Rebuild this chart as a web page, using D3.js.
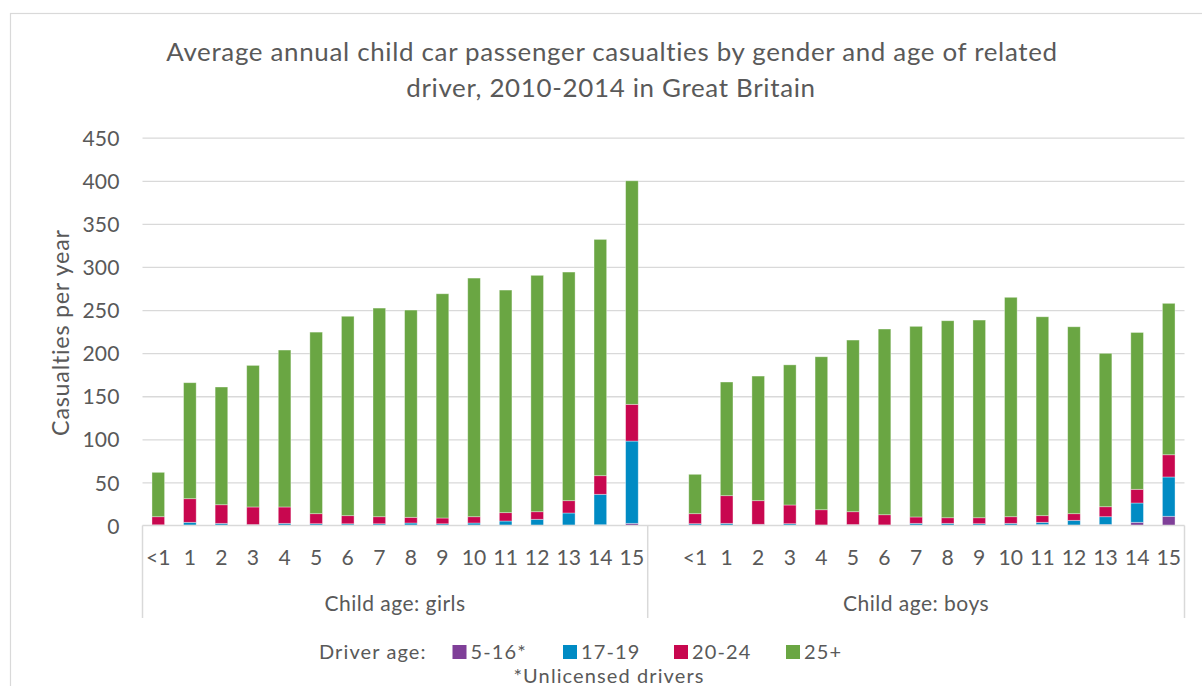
<!DOCTYPE html>
<html><head><meta charset="utf-8">
<script src="https://cdn.jsdelivr.net/npm/d3@7"></script>
<style>
body{margin:0;background:#fff}
svg{display:block}
text{font-family:Lato,"Open Sans",sans-serif;fill:#595959}
</style>
</head><body>
<svg id="chart" width="1202" height="686"></svg>
<script>
// ---- data ----
const childAges = ["<1","1","2","3","4","5","6","7","8","9","10","11","12","13","14","15"];
const groupLabels = ["Child age: girls","Child age: boys"];
const seriesNames = ["5-16*","17-19","20-24","25+"];
const seriesColors = ["#7f3f98","#008bc4","#c8074f","#6aa643"];
const yTicks = [0,50,100,150,200,250,300,350,400,450];

const girls5to16 = [0.4,0.3,0.3,0.5,0.3,0.3,0.5,0.3,0.3,0.3,0.3,0.3,0.2,0.3,0.8,2.5];
const girls17to19 = [0.3,3.4,2.2,0.5,2.2,1.8,1.5,1.7,2.6,1.7,2.6,4.9,7.0,14.2,35.4,95.5];
const girls20to24 = [9.5,27.4,21.6,20.5,19.0,11.6,9.4,8.2,6.6,6.7,7.3,9.7,8.8,14.3,21.6,42.6];
const girls25plus = [51.5,134.6,136.6,164.3,182.1,210.7,231.4,242.1,240.5,260.2,276.9,258.3,274.3,265.3,274.2,259.4];

const boys5to16 = [0.3,0.3,1.0,0.3,0.2,0.8,0.2,0.3,0.3,0.3,0.3,1.0,0.3,1.2,3.7,10.7];
const boys17to19 = [1.8,2.2,0.4,1.8,0.2,0.2,0.3,2.2,2.2,1.8,2.2,2.7,5.7,9.0,22.4,45.6];
const boys20to24 = [11.6,32.1,27.4,21.7,17.9,15.0,12.0,7.4,6.5,6.9,7.7,7.7,7.7,11.6,15.9,25.8];
const boys25plus = [45.7,131.9,144.6,162.6,177.5,199.2,215.5,221.2,228.6,229.4,254.6,230.8,216.9,178.0,182.0,175.7];

// ---- build table ----
const groupSeries = [
  [girls5to16, girls17to19, girls20to24, girls25plus],
  [boys5to16, boys17to19, boys20to24, boys25plus]
];
const rows = [];
groupSeries.forEach((ser, g) => {
  childAges.forEach((age, i) => {
    const r = {key: g + "|" + age, age, group: g};
    seriesNames.forEach((s, k) => r[s] = ser[k][i]);
    rows.push(r);
  });
});
const gapKey = "gap";
const domain = rows.filter(r => r.group === 0).map(r => r.key)
  .concat([gapKey])
  .concat(rows.filter(r => r.group === 1).map(r => r.key));

const svg = d3.select("#chart");

// text fitting helper: grow font modestly, make up the rest with letter-spacing
function fitStyle(sampleText, baseSize, targetWidth, maxGrow = 1.06) {
  const t = svg.append("text").attr("font-size", baseSize).text(sampleText);
  const w0 = t.node().getComputedTextLength();
  const size = baseSize * Math.min(maxGrow, Math.sqrt(targetWidth / w0));
  t.attr("font-size", size);
  const w1 = t.node().getComputedTextLength();
  t.remove();
  const spacing = Math.max(0, (targetWidth - w1) / sampleText.length);
  return {size, spacing};
}
function applyStyle(sel, st) {
  sel.attr("font-size", st.size).attr("letter-spacing", st.spacing);
}

// ---- layout ----
const plotLeft = 142.5, plotRight = 1184.5, plotTop = 137.7, plotBottom = 525.5;
const pad = 0.6;

const tickStyle = fitStyle("450", 21, 37);
const titleStyle = fitStyle("Average annual child car passenger casualties by gender and age of related", 24.5, 892);
const yTitleStyle = fitStyle("Casualties per year", 22, 207);
const groupStyle = fitStyle("Child age: girls", 20, 141);
const legendStyle = fitStyle("*Unlicensed drivers", 20, 191, 1.0);

// outer border
svg.append("rect").attr("x",10.5).attr("y",13.5).attr("width",1200).attr("height",700)
  .attr("fill","none").attr("stroke","#d9d9d9").attr("stroke-width",1.2);

const x = d3.scaleBand().domain(domain).range([plotLeft, plotRight])
  .paddingInner(pad).paddingOuter(pad/2);
const y = d3.scaleLinear().domain([0,450]).range([plotBottom, plotTop]);

// gridlines
const grid = svg.append("g").attr("transform",`translate(${plotLeft},0)`)
  .call(d3.axisLeft(y).tickValues(yTicks.filter(v => v > 0)).tickSize(-(plotRight-plotLeft)).tickFormat(""));
grid.select(".domain").remove();
grid.selectAll("line").attr("stroke","#d9d9d9").attr("stroke-width",1.3);

// y tick labels
const yAx = svg.append("g").attr("transform",`translate(${plotLeft},0)`)
  .call(d3.axisLeft(y).tickValues(yTicks).tickSize(0).tickPadding(23));
yAx.select(".domain").remove();
yAx.selectAll("text").attr("fill","#595959").attr("font-family","Lato").attr("dy","0.36em");
applyStyle(yAx.selectAll("text"), tickStyle);

// stacked bars
const stack = d3.stack().keys(seriesNames)(rows);
svg.append("g").selectAll("g").data(stack).join("g")
  .attr("fill", (d,i) => seriesColors[i])
  .selectAll("rect").data(d => d).join("rect")
  .attr("x", d => x(d.data.key))
  .attr("width", x.bandwidth())
  .attr("y", d => y(d[1]))
  .attr("height", d => Math.max(0, y(d[0]) - y(d[1])))
  .attr("stroke","#ffffff").attr("stroke-opacity",0.45).attr("stroke-width",0.8);

// category axis lines (multi-level)
const boundary = x(gapKey) - x.step()*pad/2;
const axisColor = "#d9d9d9";
svg.append("line").attr("x1",plotLeft).attr("x2",plotRight).attr("y1",plotBottom).attr("y2",plotBottom)
  .attr("stroke",axisColor).attr("stroke-width",1.5);
[plotLeft, boundary, plotRight].forEach(xx => {
  svg.append("line").attr("x1",xx).attr("x2",xx).attr("y1",plotBottom).attr("y2",618)
    .attr("stroke",axisColor).attr("stroke-width",1.5);
});

// category labels
const xAx = svg.append("g").attr("transform",`translate(0,${plotBottom})`)
  .call(d3.axisBottom(x).tickValues(domain.filter(k => k !== gapKey)).tickSize(0).tickPadding(0)
    .tickFormat(k => k.split("|")[1]));
xAx.select(".domain").remove();
xAx.selectAll("text").attr("font-family","Lato").attr("fill","#595959")
  .attr("y",39.5).attr("dy",null);
applyStyle(xAx.selectAll("text"), tickStyle);

// group labels
const groupCenters = [(plotLeft + boundary)/2, (boundary + plotRight)/2];
const gl = svg.append("g").selectAll("text").data(groupLabels).join("text")
  .attr("x",(d,i) => groupCenters[i]).attr("y",611)
  .attr("text-anchor","middle").text(d => d);
applyStyle(gl, groupStyle);

// y axis title
const yt = svg.append("text").attr("transform",`translate(69,${(plotTop+plotBottom)/2 + 1}) rotate(-90)`)
  .attr("text-anchor","middle").text("Casualties per year");
applyStyle(yt, yTitleStyle);

// title
const title = svg.append("text").attr("text-anchor","middle");
title.append("tspan").attr("x",612).attr("y",61).text("Average annual child car passenger casualties by gender and age of related");
title.append("tspan").attr("x",611).attr("y",97).text("driver, 2010-2014 in Great Britain");
applyStyle(title, titleStyle);

// legend
const lg = svg.append("g");
const legTexts = [];
legTexts.push(lg.append("text").attr("x",319).attr("y",658.5).text("Driver age:"));
const legX = [452.5, 563, 674, 786];
seriesNames.forEach((s,i) => {
  lg.append("rect").attr("x",legX[i]).attr("y",645).attr("width",14).attr("height",14).attr("fill",seriesColors[i]);
  legTexts.push(lg.append("text").attr("x",legX[i]+18).attr("y",658.5).text(s));
});
legTexts.push(lg.append("text").attr("x",609).attr("y",682.5).attr("text-anchor","middle").text("*Unlicensed drivers"));
legTexts.forEach(t => applyStyle(t, legendStyle));
</script>
</body></html>
